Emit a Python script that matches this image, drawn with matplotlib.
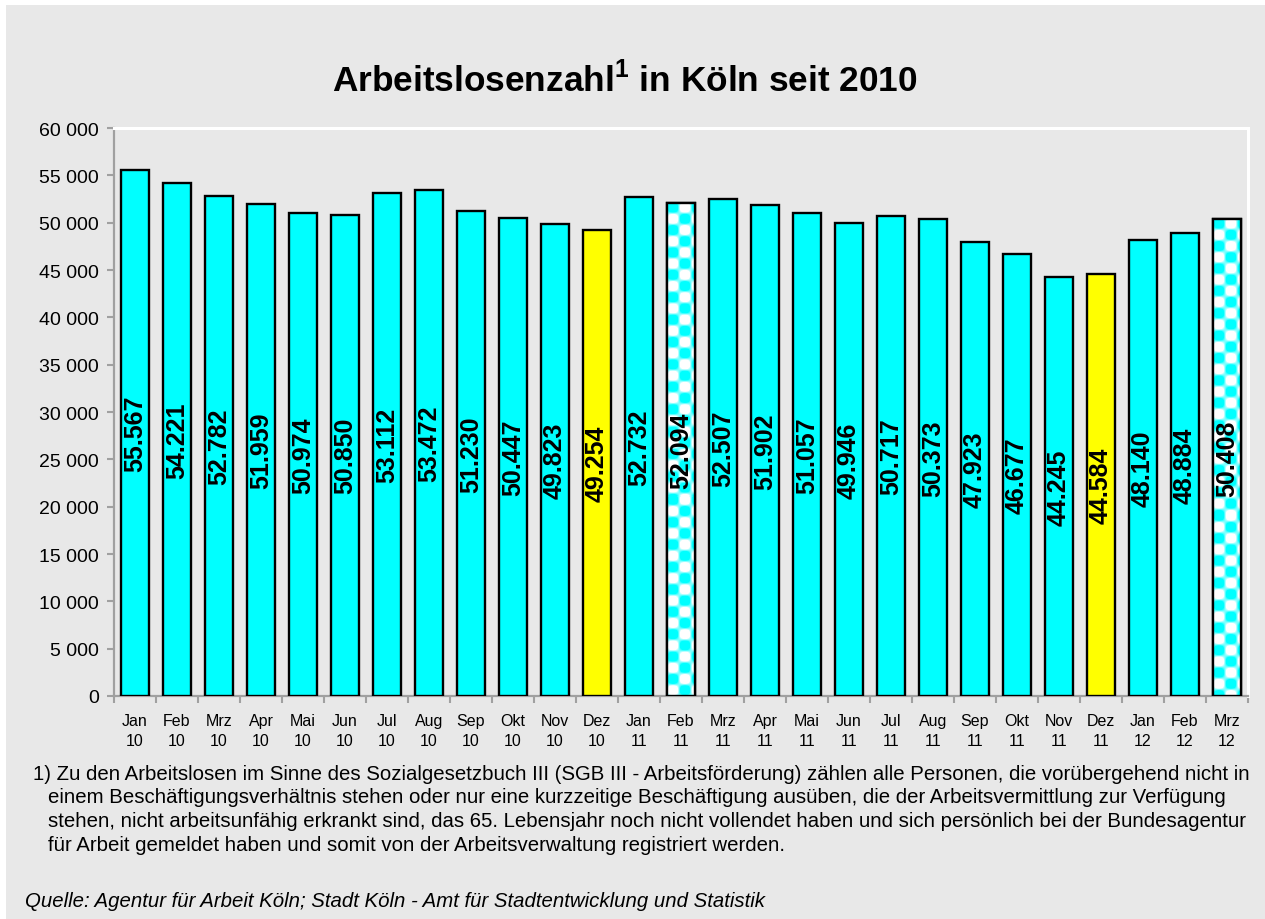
import numpy as np
import matplotlib
matplotlib.use("Agg")
import matplotlib.pyplot as plt
from matplotlib.patches import Rectangle
from matplotlib.ticker import FuncFormatter, MultipleLocator

plt.rcParams['font.family'] = ['Liberation Sans', 'DejaVu Sans']
plt.rcParams['mathtext.fontset'] = 'custom'
plt.rcParams['mathtext.bf'] = 'Liberation Sans:bold'
plt.rcParams['mathtext.rm'] = 'Liberation Sans'

# data
months = ['Jan', 'Feb', 'Mrz', 'Apr', 'Mai', 'Jun', 'Jul', 'Aug', 'Sep', 'Okt', 'Nov', 'Dez',
          'Jan', 'Feb', 'Mrz', 'Apr', 'Mai', 'Jun', 'Jul', 'Aug', 'Sep', 'Okt', 'Nov', 'Dez',
          'Jan', 'Feb', 'Mrz']
years = ['10'] * 12 + ['11'] * 12 + ['12'] * 3
values = [55567, 54221, 52782, 51959, 50974, 50850, 53112, 53472, 51230, 50447, 49823, 49254,
          52732, 52094, 52507, 51902, 51057, 49946, 50717, 50373, 47923, 46677, 44245, 44584,
          48140, 48884, 50408]
# style per bar: 'c' plain cyan, 'y' yellow (December), 'p' patterned (compare month)
bar_style = ['c'] * 11 + ['y'] + ['c', 'p'] + ['c'] * 9 + ['y'] + ['c', 'c', 'p']

footnote = [
    "1) Zu den Arbeitslosen im Sinne des Sozialgesetzbuch III (SGB III - Arbeitsförderung) zählen alle Personen, die vorübergehend nicht in",
    "einem Beschäftigungsverhältnis stehen oder nur eine kurzzeitige Beschäftigung ausüben, die der Arbeitsvermittlung zur Verfügung",
    "stehen, nicht arbeitsunfähig erkrankt sind, das 65. Lebensjahr noch nicht vollendet haben und sich persönlich bei der Bundesagentur",
    "für Arbeit gemeldet haben und somit von der Arbeitsverwaltung registriert werden.",
]
source = "Quelle: Agentur für Arbeit Köln; Stadt Köln - Amt für Stadtentwicklung und Statistik"

W, H = 1265, 920
bg = '#e8e8e8'
fig = plt.figure(figsize=(W / 100, H / 100), dpi=100, facecolor='white')
fig.patches.append(Rectangle((6 / W, 0), 1, 1 - 6 / H, transform=fig.transFigure,
                             facecolor=bg, edgecolor='none', zorder=-5))

ax = fig.add_axes([114 / W, 1 - 697 / H, (1248 - 114) / W, (697 - 129) / H])
ax.set_facecolor(bg)
ax.patch.set_alpha(0)

x = np.arange(len(values))
colors = {'c': '#00ffff', 'y': '#ffff00', 'p': 'white'}
bars = ax.bar(x, values, width=0.68, color=[colors[s] for s in bar_style],
              edgecolor='black', linewidth=1.7, zorder=3)

ax.set_xlim(-0.5, len(values) - 0.5)
ax.set_ylim(0, 60000)

# checker pattern (cyan / white, soft edged) for the compare bars
fig.canvas.draw()
for b, s in zip(bars, bar_style):
    if s != 'p':
        continue
    x0, x1 = b.get_x(), b.get_x() + b.get_width()
    y1 = b.get_height()
    p0 = ax.transData.transform((x0, 0))
    p1 = ax.transData.transform((x1, y1))
    wpx = int(np.ceil(p1[0] - p0[0])) + 2
    hpx = int(np.ceil(p1[1] - p0[1])) + 2
    cw, ch = 12.0, 11.2
    px, py = np.meshgrid(np.arange(wpx) + 0.5, np.arange(hpx) + 0.5)
    f = np.cos(np.pi * (px - cw / 2) / cw) * np.cos(np.pi * (py - ch / 2) / ch)
    a = np.clip(0.5 + 1.6 * f, 0, 1)
    img = np.ones((hpx, wpx, 3))
    img[..., 0] = 1 - a
    dx = (x1 - x0) / (p1[0] - p0[0])
    dy = y1 / (p1[1] - p0[1])
    im = ax.imshow(img, extent=(x0, x0 + wpx * dx, y1 - hpx * dy, y1), origin='upper',
                   aspect='auto', interpolation='nearest', zorder=3.2)
    im.set_clip_path(b)
    # outline again on top of the pattern
    ax.bar(b.get_x() + b.get_width() / 2, y1, width=b.get_width(), facecolor='none',
           edgecolor='black', linewidth=1.7, zorder=3.4)
ax.set_xlim(-0.5, len(values) - 0.5)
ax.set_ylim(0, 60000)

# value labels inside the bars
for xi, v in zip(x, values):
    ax.text(xi, v / 2, f"{v:,}".replace(",", "."), rotation=90, ha='center', va='center',
            fontsize=18, fontweight='bold', color='black', zorder=4)

# axes styling
for side in ['top', 'right']:
    ax.spines[side].set_color('white')
    ax.spines[side].set_linewidth(2.2)
for side in ['left', 'bottom']:
    ax.spines[side].set_color('#a0a0a0')
    ax.spines[side].set_linewidth(1.6)

ax.yaxis.set_major_locator(MultipleLocator(5000))
ax.yaxis.set_major_formatter(FuncFormatter(lambda v, p: f"{int(v):,}".replace(",", " ")))
ax.tick_params(axis='y', direction='out', length=5, width=1.5, color='#a0a0a0',
               labelsize=14, pad=6)

ax.set_xticks(np.arange(-0.5, len(values), 1.0))
ax.set_xticklabels([])
ax.tick_params(axis='x', which='major', direction='out', length=5, width=1.5, color='#a0a0a0')
ax.set_xticks(x, minor=True)
ax.set_xticklabels([f"{m}\n{y}" for m, y in zip(months, years)], minor=True)
ax.tick_params(axis='x', which='minor', length=0, labelsize=11.5, pad=12)
for t in ax.get_xticklabels(minor=True):
    t.set_linespacing(1.45)

# title
fig.text(625 / W, 1 - 80 / H, r"Arbeitslosenzahl$^{\mathbf{1}}$ in Köln seit 2010",
         ha='center', va='center', fontsize=25.4, fontweight='bold')

# footnote and source
fs = 14.7
fig.text(33 / W, 1 - 774 / H, footnote[0], ha='left', va='center', fontsize=fs)
for i, line in enumerate(footnote[1:]):
    fig.text(48 / W, 1 - (798 + 24 * i) / H, line, ha='left', va='center', fontsize=fs)
fig.text(25 / W, 1 - 902 / H, source, ha='left', va='center', fontsize=fs, style='italic')

fig.savefig('out.png', dpi=100, facecolor=fig.get_facecolor())
